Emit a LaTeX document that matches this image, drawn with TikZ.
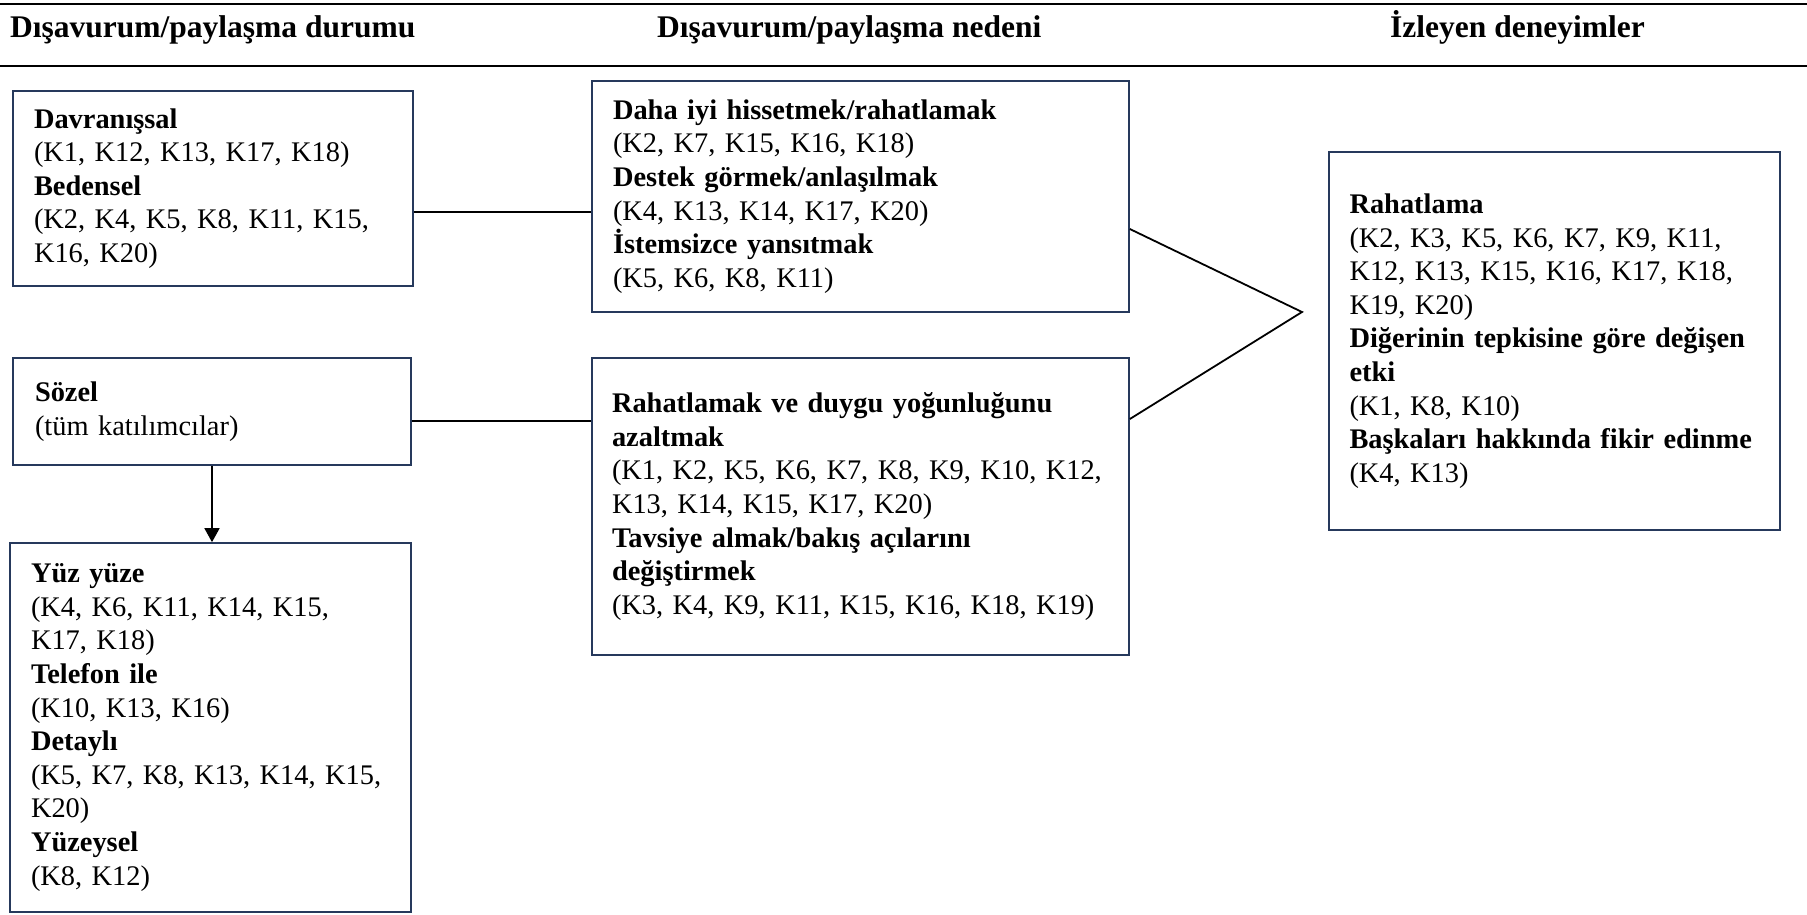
\documentclass[tikz,border=0pt]{standalone}
\usepackage{fontspec}
\setmainfont{Liberation Serif}
\usetikzlibrary{arrows.meta}
\definecolor{boxline}{RGB}{38,57,92}

\begin{document}
\begin{tikzpicture}[x=1pt, y=-1pt,
        box/.style={draw=boxline, line width=1.7pt, inner sep=0pt, align=left,
            font=\fontsize{28.4}{33.6}\selectfont},
        head/.style={anchor=base west, inner sep=0pt, font=\bfseries\fontsize{31.5}{36}\selectfont},
        conn/.style={draw=black, line width=1.8pt}]
        \useasboundingbox (0,0) rectangle (1807,914);
        \draw[conn] (0,4) -- (1807,4);
        \draw[conn] (0,66) -- (1807,66);
        \node (hdurum) at (10,37) [head] {Dışavurum/paylaşma durumu};
        \node (hneden) at (657,37) [head] {Dışavurum/paylaşma nedeni};
        \node (hdeney) at (1390,37) [head] {İzleyen deneyimler};
        \node (davr) at (213,188.5) [box, minimum width=400pt, minimum height=195pt, text width=358pt]
            {\textbf{Davranışsal}\\(K1, K12, K13, K17, K18)\\\textbf{Bedensel}\\(K2, K4, K5, K8, K11, K15,\\K16, K20)};
        \node (sozel) at (212,411.5) [box, minimum width=398pt, minimum height=107pt, text width=354pt]
            {\textbf{Sözel}\\(tüm katılımcılar)};
        \node (yuzyuze) at (210.5,727.5) [box, minimum width=401pt, minimum height=369pt, text width=359pt]
            {\textbf{Yüz yüze}\\(K4, K6, K11, K14, K15,\\K17, K18)\\\textbf{Telefon ile}\\(K10, K13, K16)\\\textbf{Detaylı}\\(K5, K7, K8, K13, K14, K15,\\K20)\\\textbf{Yüzeysel}\\(K8, K12)};
        \node (rahatla) at (860.5,196.5) [box, minimum width=537pt, minimum height=231pt, text width=495pt]
            {\textbf{Daha iyi hissetmek/rahatlamak}\\(K2, K7, K15, K16, K18)\\\textbf{Destek görmek/anlaşılmak}\\(K4, K13, K14, K17, K20)\\\textbf{İstemsizce yansıtmak}\\(K5, K6, K8, K11)};
        \node (azalt) at (860.5,506.5) [box, minimum width=537pt, minimum height=297pt, text width=497pt]
            {\textbf{Rahatlamak ve duygu yoğunluğunu}\\\textbf{azaltmak}\\(K1, K2, K5, K6, K7, K8, K9, K10, K12,\\K13, K14, K15, K17, K20)\\\textbf{Tavsiye almak/bakış açılarını}\\\textbf{değiştirmek}\\(K3, K4, K9, K11, K15, K16, K18, K19)};
        \node (izleyen) at (1554.5,341) [box, minimum width=451pt, minimum height=378pt, text width=410pt]
            {\textbf{Rahatlama}\\(K2, K3, K5, K6, K7, K9, K11,\\K12, K13, K15, K16, K17, K18,\\K19, K20)\\\textbf{Diğerinin tepkisine göre değişen}\\\textbf{etki}\\(K1, K8, K10)\\\textbf{Başkaları hakkında fikir edinme}\\(K4, K13)};
        % connectors
        \coordinate (tip) at (1302,312);
        \draw[conn] (davr.east |- 0,212) -- (rahatla.west |- 0,212);
        \draw[conn] (sozel.east |- 0,421) -- (azalt.west |- 0,421);
        \draw[conn] (rahatla.east |- 0,229) -- (tip) -- (azalt.east |- 0,419);
        \draw[conn, -{Triangle[length=14pt, width=15pt]}] (sozel.south) -- (sozel.south |- yuzyuze.north);
    \end{tikzpicture}
\end{document}
